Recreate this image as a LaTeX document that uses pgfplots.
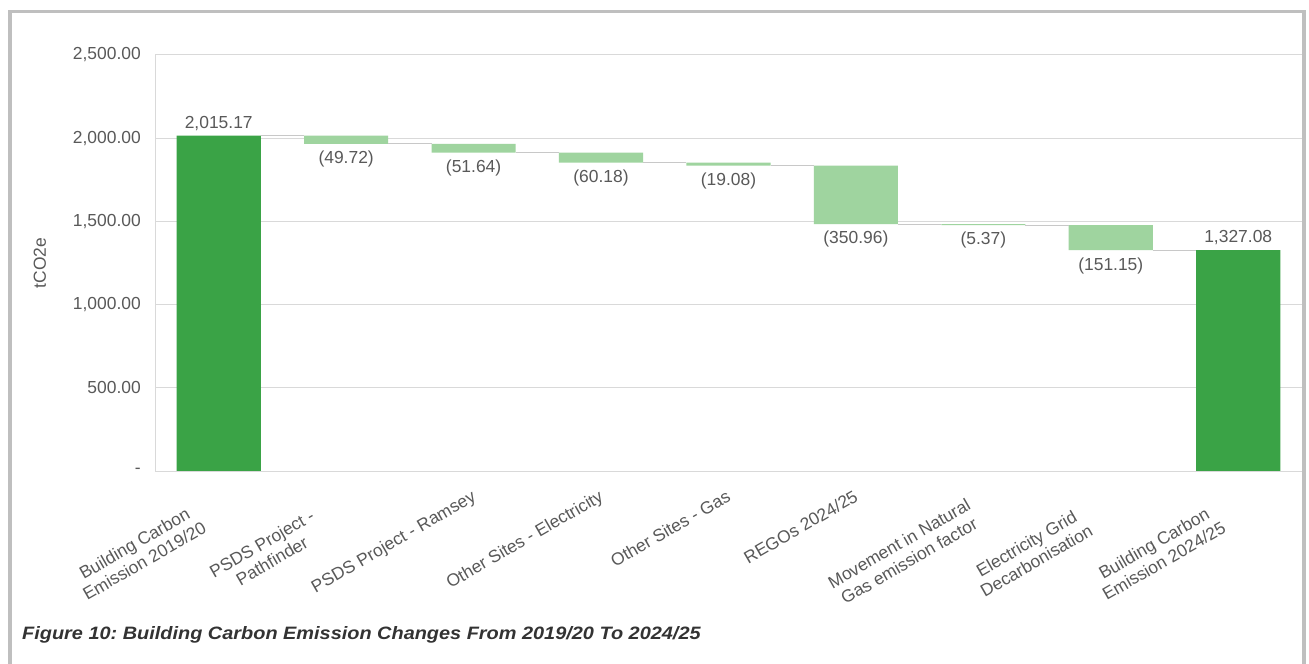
\documentclass[border=0pt]{standalone}
\usepackage{fontspec}
\setmainfont{Liberation Sans}
\usepackage{pgfplots}
\usepackage{pgfplotstable}
\pgfplotsset{compat=1.18}
\frenchspacing

\definecolor{dkgreen}{HTML}{3AA346}
\definecolor{ltgreen}{HTML}{9FD49F}
\definecolor{txt}{HTML}{595959}
\definecolor{gridc}{HTML}{D9D9D9}
\definecolor{connc}{HTML}{C8C8C8}
\definecolor{framec}{HTML}{BFBFBF}
\definecolor{capc}{HTML}{333333}

% waterfall: invisible base + visible step
\pgfplotstableread{
x base light dark
0 0       0      2015.17
1 1965.45 49.72  0
2 1913.81 51.64  0
3 1853.63 60.18  0
4 1834.55 19.08  0
5 1483.59 350.96 0
6 1478.22 5.37   0
7 1327.07 151.15 0
8 0       0      1327.08
}\bars

\pgfplotstableread{
x y lab
0 2015.17 2,015.17
8 1327.08 1,327.08
}\totals

\pgfplotstableread{
x y lab
1 1965.45 (49.72)
2 1913.81 (51.64)
3 1853.63 (60.18)
4 1834.55 (19.08)
5 1483.59 (350.96)
6 1478.22 (5.37)
7 1327.07 (151.15)
}\changes

\pgfplotstableread{
x y
0.33 2015.17
0.67 2015.17
nan nan
1.33 1965.45
1.67 1965.45
nan nan
2.33 1913.81
2.67 1913.81
nan nan
3.33 1853.63
3.67 1853.63
nan nan
4.33 1834.55
4.67 1834.55
nan nan
5.33 1483.59
5.67 1483.59
nan nan
6.33 1478.22
6.67 1478.22
nan nan
7.33 1327.07
7.67 1327.07
}\connectors

\newcommand{\chartfont}{\fontsize{17.5}{20}\selectfont}
% wrapped category name: two lines centred in a fixed wrap width
\newcommand{\wl}[2]{\parbox{195bp}{\centering #1\\#2}}

\begin{document}
\begin{tikzpicture}
\useasboundingbox (0,0) rectangle (1309bp,664bp);
\fill[white] (0,0) rectangle (1309bp,664bp);
\draw[framec, line width=3.5bp] (10bp,-5bp) -- (10bp,652.5bp) -- (1304bp,652.5bp) -- (1304bp,-5bp);

\begin{axis}[
    name=main,
    scale only axis, width=1147bp, height=416bp,
    at={(155bp,193bp)}, anchor=south west,
    xmin=-0.5, xmax=8.5, ymin=0, ymax=2500,
    ybar stacked, bar width=0.66,
    axis x line*=bottom, axis y line*=left,
    axis line style={draw=gridc, line width=1bp, -},
    ymajorgrids, grid style={draw=gridc, line width=1bp},
    major tick length=0pt,
    ytick={0,500,1000,1500,2000,2500},
    yticklabels={{-},{500.00},{1,000.00},{1,500.00},{2,000.00},{2,500.00}},
    yticklabel style={font=\chartfont, text=txt, inner sep=0pt, anchor=east, xshift=-14bp},
    xtick={0,1,2,3,4,5,6,7,8},
    xticklabels={{\wl{Building Carbon}{Emission 2019/20}},{\wl{PSDS Project -}{Pathfinder}},{PSDS Project - Ramsey},{Other Sites - Electricity},{Other Sites - Gas},{REGOs 2024/25},{\wl{Movement in Natural}{Gas emission factor}},{\wl{Electricity Grid}{Decarbonisation}},{\wl{Building Carbon}{Emission 2024/25}}},
    xticklabel style={font=\chartfont, text=txt, inner sep=0pt, yshift=-18bp, xshift=-3bp, rotate=30, anchor=north east},
    ylabel={tCO2e},
    ylabel style={font=\chartfont, text=txt, at={(axis description cs:-0.1003,0.5)}, anchor=center},
]
\addplot[fill=none, draw=none] table[x=x, y=base] {\bars};
\addplot[fill=ltgreen, draw=none] table[x=x, y=light] {\bars};
\addplot[fill=dkgreen, draw=none] table[x=x, y=dark] {\bars};
\end{axis}

\begin{axis}[
    scale only axis, width=1147bp, height=416bp,
    at={(155bp,193bp)}, anchor=south west,
    xmin=-0.5, xmax=8.5, ymin=0, ymax=2500,
    hide axis, clip=false,
    unbounded coords=jump,
]
\addplot[draw=connc, line width=1bp] table[x=x, y=y] {\connectors};
\addplot[draw=none, mark=none, nodes near coords, point meta=explicit symbolic,
    every node near coord/.append style={font=\chartfont, text=txt, anchor=south, inner sep=0pt, yshift=5bp}]
    table[x=x, y=y, meta=lab] {\totals};
\addplot[draw=none, mark=none, nodes near coords, point meta=explicit symbolic,
    every node near coord/.append style={font=\chartfont, text=txt, anchor=north, inner sep=0pt, yshift=-7bp}]
    table[x=x, y=y, meta=lab] {\changes};
\end{axis}

\node[anchor=base west, inner sep=0pt, text=capc, font=\fontsize{18}{21}\selectfont\bfseries\itshape]
    at (22bp,25bp) {\scalebox{1.11}[1]{Figure 10: Building Carbon Emission Changes From 2019/20 To 2024/25}};
\end{tikzpicture}
\end{document}
